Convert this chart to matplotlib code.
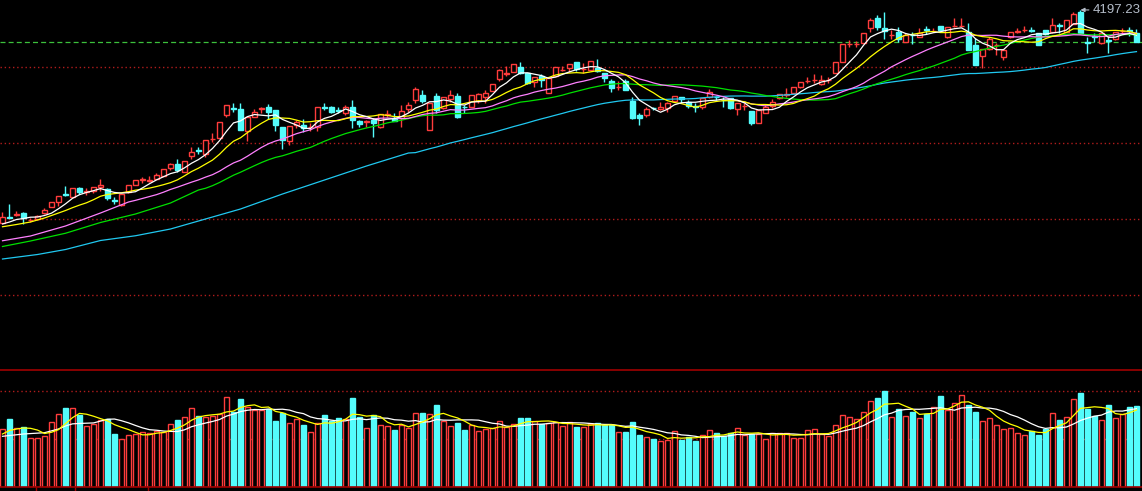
import numpy as np
import pandas as pd
import matplotlib
matplotlib.use("Agg")
import matplotlib.pyplot as plt

# daily OHLC (163 sessions)
opens = [3346, 3371, 3377, 3384, 3357, 3361, 3384, 3410, 3430, 3460,
         3449, 3484, 3471, 3474, 3488, 3480, 3436, 3417, 3468, 3498,
         3518, 3514, 3521, 3534, 3564, 3581, 3550, 3613, 3637, 3621,
         3680, 3686, 3777, 3805, 3801, 3714, 3770, 3802, 3808, 3797,
         3729, 3674, 3737, 3737, 3729, 3730, 3808, 3808, 3796, 3784,
         3810, 3754, 3750, 3757, 3728, 3778, 3764, 3764, 3801, 3837,
         3857, 3717, 3853, 3804, 3840, 3853, 3810, 3810, 3834, 3848,
         3874, 3921, 3942, 3950, 3970, 3944, 3908, 3933, 3866, 3933,
         3956, 3964, 3990, 3960, 3957, 3966, 3944, 3913, 3889, 3913,
         3834, 3777, 3777, 3806, 3800, 3804, 3834, 3848, 3830, 3812,
         3810, 3850, 3850, 3838, 3844, 3801, 3812, 3793, 3746, 3786,
         3813, 3844, 3858, 3866, 3888, 3913, 3916, 3900, 3916, 3946,
         3990, 4060, 4060, 4066, 4124, 4164, 4124, 4096, 4110, 4070,
         4098, 4089, 4120, 4113, 4133, 4088, 4133, 4133, 4110, 4057,
         4013, 4040, 4056, 4010, 4088, 4110, 4117, 4117, 4106, 4117,
         4108, 4137, 4110, 4141, 4190, 4069, 4093, 4064, 4077, 4080,
         4113, 4117, 4104]
closes = [3370, 3367, 3381, 3364, 3359, 3374, 3397, 3428, 3452, 3457,
          3484, 3470, 3473, 3488, 3498, 3444, 3433, 3460, 3497, 3517,
          3520, 3516, 3537, 3560, 3580, 3557, 3594, 3629, 3634, 3677,
          3682, 3749, 3817, 3802, 3717, 3768, 3790, 3804, 3789, 3736,
          3677, 3733, 3750, 3724, 3731, 3808, 3805, 3790, 3793, 3810,
          3757, 3741, 3752, 3746, 3781, 3780, 3754, 3793, 3817, 3880,
          3833, 3826, 3797, 3850, 3857, 3770, 3809, 3857, 3860, 3866,
          3901, 3957, 3944, 3980, 3944, 3904, 3928, 3917, 3926, 3968,
          3957, 3980, 3961, 3961, 3993, 3953, 3926, 3886, 3890, 3877,
          3764, 3764, 3800, 3804, 3808, 3824, 3854, 3840, 3813, 3809,
          3844, 3868, 3848, 3836, 3804, 3826, 3813, 3746, 3797, 3808,
          3830, 3860, 3860, 3888, 3909, 3914, 3917, 3917, 3917, 3989,
          4060, 4061, 4061, 4106, 4157, 4128, 4114, 4097, 4080, 4097,
          4096, 4106, 4117, 4115, 4117, 4128, 4134, 4134, 4037, 3977,
          4040, 4080, 4057, 4037, 4108, 4112, 4118, 4115, 4057, 4100,
          4137, 4134, 4157, 4181, 4104, 4066, 4090, 4104, 4074, 4108,
          4114, 4114, 4070]
highs = [3389, 3421, 3393, 3389, 3365, 3377, 3405, 3429, 3453, 3493,
         3485, 3490, 3484, 3489, 3521, 3484, 3450, 3461, 3498, 3519,
         3528, 3533, 3544, 3561, 3584, 3601, 3595, 3648, 3650, 3678,
         3704, 3750, 3818, 3826, 3826, 3769, 3800, 3810, 3821, 3798,
         3730, 3734, 3757, 3760, 3744, 3809, 3826, 3813, 3808, 3817,
         3837, 3757, 3757, 3764, 3782, 3797, 3784, 3817, 3830, 3888,
         3877, 3827, 3864, 3851, 3877, 3866, 3817, 3858, 3866, 3877,
         3902, 3960, 3973, 3981, 3990, 3945, 3929, 3941, 3930, 3969,
         3973, 3981, 3991, 3984, 3994, 4001, 3945, 3921, 3913, 3921,
         3850, 3784, 3810, 3810, 3830, 3830, 3855, 3849, 3837, 3824,
         3845, 3881, 3854, 3850, 3845, 3827, 3824, 3794, 3798, 3821,
         3840, 3861, 3884, 3889, 3910, 3930, 3941, 3937, 3930, 3990,
         4061, 4077, 4074, 4107, 4164, 4177, 4190, 4117, 4128, 4106,
         4110, 4124, 4133, 4126, 4134, 4129, 4164, 4164, 4144, 4084,
         4041, 4088, 4064, 4038, 4109, 4124, 4133, 4128, 4107, 4118,
         4164, 4144, 4158, 4190, 4197.23, 4090, 4104, 4105, 4090, 4109,
         4124, 4128, 4121]
lows = [3345, 3365, 3373, 3341, 3349, 3357, 3381, 3409, 3414, 3453,
        3449, 3461, 3457, 3464, 3474, 3437, 3421, 3415, 3467, 3497,
        3506, 3508, 3520, 3533, 3557, 3550, 3549, 3602, 3621, 3610,
        3670, 3685, 3768, 3790, 3716, 3674, 3768, 3784, 3760, 3714,
        3640, 3656, 3724, 3710, 3713, 3714, 3797, 3784, 3784, 3777,
        3724, 3730, 3730, 3690, 3727, 3770, 3753, 3730, 3790, 3824,
        3824, 3716, 3784, 3803, 3830, 3764, 3784, 3809, 3826, 3826,
        3873, 3914, 3934, 3949, 3943, 3903, 3888, 3888, 3865, 3932,
        3953, 3950, 3953, 3944, 3956, 3951, 3910, 3870, 3877, 3876,
        3763, 3737, 3770, 3797, 3797, 3788, 3833, 3824, 3804, 3790,
        3801, 3846, 3837, 3810, 3803, 3777, 3797, 3737, 3745, 3785,
        3804, 3843, 3850, 3865, 3887, 3906, 3906, 3899, 3906, 3945,
        3989, 4048, 4050, 4065, 4110, 4117, 4080, 4080, 4070, 4069,
        4060, 4088, 4100, 4109, 4116, 4087, 4130, 4132, 4036, 3976,
        3964, 4037, 4017, 3997, 4087, 4104, 4110, 4110, 4056, 4099,
        4107, 4104, 4109, 4140, 4103, 4026, 4070, 4063, 4024, 4079,
        4104, 4093, 4069]
volumes = [577, 680, 587, 600, 490, 490, 507, 650, 730, 790,
           790, 720, 610, 630, 670, 677, 530, 480, 517, 530,
           550, 537, 557, 550, 630, 670, 697, 790, 710, 703,
           710, 730, 900, 753, 880, 803, 770, 770, 777, 660,
           737, 640, 680, 620, 550, 637, 720, 663, 690, 677,
           890, 697, 590, 720, 620, 610, 570, 620, 587, 737,
           740, 727, 820, 657, 610, 640, 570, 623, 560, 580,
           587, 657, 603, 627, 690, 690, 657, 627, 637, 647,
           610, 647, 600, 600, 630, 640, 620, 620, 550, 550,
           650, 520, 500, 480, 460, 470, 560, 470, 500, 460,
           520, 570, 540, 510, 540, 590, 520, 530, 530, 480,
           540, 540, 540, 490, 490, 567, 580, 530, 507, 620,
           720, 700, 680, 750, 860, 890, 960, 700, 780, 710,
           750, 690, 730, 800, 910, 770, 840, 920, 820, 750,
           660, 690, 620, 580, 590, 540, 520, 560, 520, 580,
           740, 670, 700, 880, 940, 780, 710, 670, 820, 690,
           730, 800, 810]

# MA values before each window is full (history is off-screen)
ma5_head_idx = [0, 1, 2, 3]
ma5_head_val = [3341, 3349, 3359, 3363]
ma10_head_idx = [0, 2, 4, 6, 8]
ma10_head_val = [3330, 3339, 3349, 3365, 3385]
ma20_head_idx = [0, 4, 9, 14, 18]
ma20_head_val = [3274, 3293, 3333, 3385, 3429]
ma30_head_idx = [0, 4, 9, 14, 19, 24, 28]
ma30_head_val = [3251, 3273, 3304, 3347, 3381, 3425, 3477]
ma60_head_idx = [0, 5, 9, 14, 19, 24, 28, 34, 40, 46, 52, 58]
ma60_head_val = [3201, 3219, 3239, 3275, 3294, 3321, 3353, 3401, 3461, 3517, 3573, 3625]
vma5_head_idx = [0, 1, 2, 3]
vma5_head_val = [530, 565, 580, 590]
vma10_head_idx = [0, 3, 6, 8]
vma10_head_val = [507, 530, 543, 580]

grid_levels = [3057, 3363, 3665, 3969]
date_ticks = [4.8, 10.3, 20.8]

UP = "#ff3c3c"
DOWN = "#54fcfc"
BG = "black"
GRID = "#b01c1c"
FRAME = "#a00000"

o = np.array(opens, float)
c = np.array(closes, float)
h = np.array(highs, float)
l = np.array(lows, float)
v = np.array(volumes, float)
n = len(c)
idx = np.arange(n)
up = c >= o

fig = plt.figure(figsize=(11.42, 4.91), dpi=100, facecolor=BG)
ax = fig.add_axes([0, 121 / 491, 1, 370 / 491])
axv = fig.add_axes([0, 4 / 491, 1, 117 / 491])
for a in (ax, axv):
    a.set_facecolor(BG)
    a.set_xlim(-0.357, 162.79)
    for s in a.spines.values():
        s.set_visible(False)
ax.set_ylim(2757, 4237)
ax.set_xticks([])
ax.set_yticks([])

# price grid + last price
for lv in grid_levels:
    ax.axhline(lv, color=GRID, lw=1.0, ls=(0, (1, 2)), zorder=1)
ax.axhline(c[-1], color="#3cc03c", lw=0.9, ls=(0, (4, 2.5)), zorder=1)

# candles
ax.vlines(idx, l, h, colors=np.where(up, UP, DOWN), lw=1, zorder=2)
bot = np.minimum(o, c)
ht = np.maximum(np.abs(c - o), 1.5)
ax.bar(idx[up], ht[up], 0.6, bottom=bot[up], facecolor=BG, edgecolor=UP, lw=1, zorder=3)
ax.bar(idx[~up], ht[~up], 0.6, bottom=bot[~up], facecolor=DOWN, edgecolor=DOWN, lw=1, zorder=3)


def ma_line(series, win, head_idx, head_val):
    full = series.rolling(win).mean()
    xs = list(head_idx) + list(range(win - 1, len(series)))
    ys = list(head_val) + list(full.iloc[win - 1:])
    return xs, ys


sc = pd.Series(c)
for win, hi, hv, col in [(60, ma60_head_idx, ma60_head_val, "#20c8f0"),
                         (30, ma30_head_idx, ma30_head_val, "#00e000"),
                         (20, ma20_head_idx, ma20_head_val, "#ff80ff"),
                         (10, ma10_head_idx, ma10_head_val, "#ffff00"),
                         (5, ma5_head_idx, ma5_head_val, "#ffffff")]:
    xs, ys = ma_line(sc, win, hi, hv)
    ax.plot(xs, ys, color=col, lw=0.9, zorder=4)

# peak label
pk = int(np.argmax(h))
ax.annotate(f"{h[pk]:.2f}", xy=(pk, h[pk]), xytext=(pk + 1.8, h[pk]),
            color="#b4bcc8", fontsize=9.5, family="Liberation Sans",
            va="center", ha="left", annotation_clip=False,
            arrowprops=dict(arrowstyle="-|>", color="#b4bcc8", lw=0.8,
                            shrinkA=1, shrinkB=0, mutation_scale=6))

# volume panel
axv.set_ylim(0, 1170)
axv.axhline(v.max(), color=GRID, lw=1.0, ls=(0, (1, 2)), zorder=1)
axv.axhline(v.max() / 2, color=GRID, lw=1.0, ls=(0, (1, 2)), zorder=1)
axv.bar(idx[up], v[up], 0.6, facecolor=BG, edgecolor=UP, lw=1, zorder=2)
axv.bar(idx[~up], v[~up], 0.6, facecolor=DOWN, edgecolor=DOWN, lw=1, zorder=2)
sv = pd.Series(v)
for win, hi, hv, col in [(10, vma10_head_idx, vma10_head_val, "#ffffff"),
                         (5, vma5_head_idx, vma5_head_val, "#ffff00")]:
    xs, ys = ma_line(sv, win, hi, hv)
    axv.plot(xs, ys, color=col, lw=0.9, zorder=3)

for side in ("top", "bottom"):
    axv.spines[side].set_visible(True)
    axv.spines[side].set_color(FRAME)
    axv.spines[side].set_linewidth(1.2)
axv.set_yticks([])
axv.set_xticks(date_ticks)
axv.tick_params(axis="x", direction="out", length=3, width=1, color=FRAME, labelbottom=False)

fig.savefig("out.png", dpi=100, facecolor=BG)
